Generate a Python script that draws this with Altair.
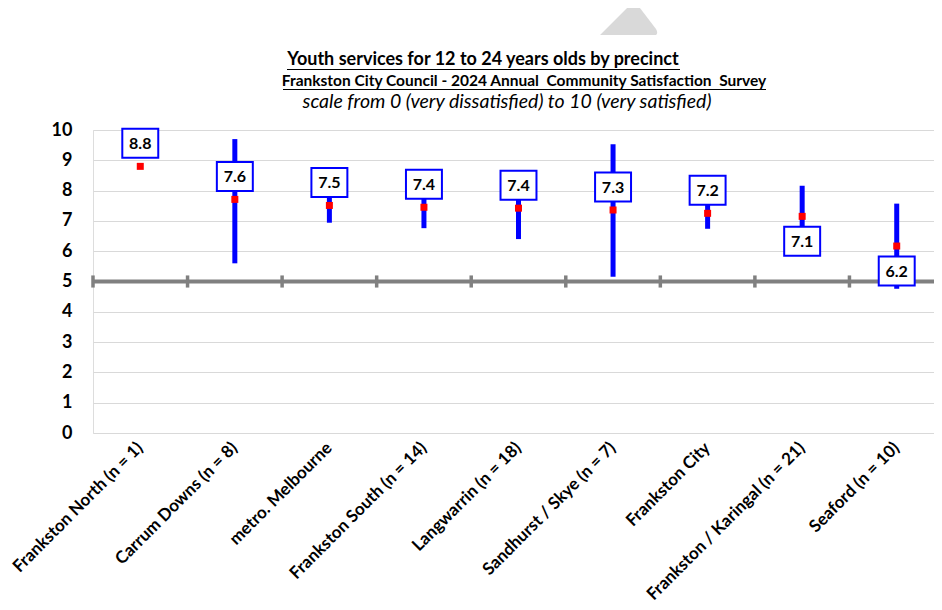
import altair as alt
import pandas as pd

# ---------------- data ----------------
categories = [
    "Frankston North (n = 1)",
    "Carrum Downs (n = 8)",
    "metro. Melbourne",
    "Frankston South (n = 14)",
    "Langwarrin (n = 18)",
    "Sandhurst / Skye (n = 7)",
    "Frankston City",
    "Frankston / Karingal (n = 21)",
    "Seaford (n = 10)",
]
means = [8.80, 7.71, 7.51, 7.45, 7.42, 7.36, 7.25, 7.15, 6.17]
lower = [None, 5.60, 6.94, 6.76, 6.40, 5.16, 6.74, 6.14, 4.76]
upper = [None, 9.70, 8.08, 8.14, 8.44, 9.53, 7.76, 8.16, 7.57]
labels = ["8.8", "7.6", "7.5", "7.4", "7.4", "7.3", "7.2", "7.1", "6.2"]
placement = ["above", "above", "above", "above", "above", "above", "above", "below", "below"]
y_ticks = [0, 1, 2, 3, 4, 5, 6, 7, 8, 9, 10]
reference_value = 5
title_lines = [
    "Youth services for 12 to 24 years olds by precinct",
    "Frankston City Council - 2024 Annual\u00a0 Community Satisfaction\u00a0 Survey",
    "scale from 0 (very dissatisfied) to 10 (very satisfied)",
]

df = pd.DataFrame({
    "cat": categories, "mean": means, "lower": lower, "upper": upper,
    "label": labels, "place": placement,
})

# ---------------- layout / style ----------------
W, H = 841, 303
XRANGE = 851
BAND = XRANGE / len(categories)
FONT = "Lato"
BLUE = "#0000ff"
BOX_PATH = "M-1.24,-1L1.24,-1L1.24,1L-1.24,1Z"
ABOVE, BELOW = -23, 25

xenc = alt.X("cat:N", sort=categories,
             scale=alt.Scale(paddingInner=0, paddingOuter=0, range=[0, XRANGE]),
             axis=alt.Axis(title=None, labelAngle=-45, labelAlign="right",
                           labelBaseline="middle", labelFont=FONT, labelFontSize=17,
                           labelFontWeight="bold", labelColor="black", domain=False,
                           ticks=False, labelPadding=12, grid=False, labelLimit=400,
                           labelOverlap=False))
yscale = alt.Scale(domain=[0, 10], nice=False, zero=True)
yaxis = alt.Axis(values=y_ticks, title=None, labelFont=FONT, labelFontSize=18,
                 labelFontWeight="bold", labelColor="black", domain=False, ticks=False,
                 labelPadding=21, gridColor="#d9d9d9", gridWidth=1)

base = alt.Chart(df)

ref_line = alt.Chart(pd.DataFrame({"v": [reference_value]})).mark_rule(
    color="#808080", strokeWidth=4
).encode(y=alt.Y("v:Q", scale=yscale, axis=yaxis))

ref_ticks = base.mark_rule(color="#808080", strokeWidth=3.5, xOffset=-BAND / 2).encode(
    x=xenc,
    y=alt.Y(datum=reference_value - 0.2, type="quantitative", scale=yscale, axis=yaxis),
    y2=alt.Y2(datum=reference_value + 0.2),
)

bars = base.mark_rule(color=BLUE, strokeWidth=5).encode(
    x=xenc, y=alt.Y("lower:Q", scale=yscale, axis=yaxis), y2="upper:Q"
)

def boxes(place, off):
    sub = base.transform_filter(alt.datum.place == place)
    box = sub.mark_point(shape=BOX_PATH, size=841, filled=True, fill="white",
                         fillOpacity=1, opacity=1, stroke=BLUE, strokeWidth=2,
                         yOffset=off).encode(x=xenc, y=alt.Y("mean:Q", scale=yscale, axis=yaxis))
    txt = sub.mark_text(font=FONT, fontSize=16, fontWeight="bold", color="black",
                        baseline="middle", yOffset=off + 1).encode(
        x=xenc, y=alt.Y("mean:Q", scale=yscale, axis=yaxis), text="label:N")
    return box + txt

squares = base.mark_square(size=49, color="#ff0000", opacity=1).encode(
    x=xenc, y=alt.Y("mean:Q", scale=yscale, axis=yaxis)
)

# ---------------- titles (positioned in pixels relative to plot origin) ----------------
one = pd.DataFrame({"t": [0]})
def tline(text, cx, cy, weight, style, size):
    return alt.Chart(one).mark_text(text=text, font=FONT, fontSize=size, fontWeight=weight,
                                    fontStyle=style, color="black", align="center",
                                    baseline="middle").encode(x=alt.value(cx - 93), y=alt.value(cy - 130))

def uline(x1, x2, yy):
    return alt.Chart(one).mark_rule(color="black", strokeWidth=1).encode(
        x=alt.value(x1 - 93), x2=alt.value(x2 - 93), y=alt.value(yy - 130))

t1 = tline(title_lines[0], 483, 60, "bold", "normal", 18)
t2 = tline(title_lines[1], 524, 81, "bold", "normal", 15.5)
t3 = tline(title_lines[2], 507, 102, "normal", "italic", 19.5)
u1 = uline(287, 680, 69.5)
u2 = uline(283, 766, 89.5)

deco = alt.Chart(one).mark_point(
    shape="M-1.93,1L-0.13,-0.8Q0.27,-1.15,0.73,-0.8L1.8,0.6Q1.95,0.85,1.8,1Z",
    size=900, filled=True, color="#d9d9d9", opacity=1
).encode(x=alt.value(536), y=alt.value(-110))

chart = alt.layer(
    ref_line, ref_ticks, bars, boxes("above", ABOVE), boxes("below", BELOW), squares,
    t1, t2, t3, u1, u2, deco
).properties(
    width=W, height=H,
    padding={"left": 85, "top": 122, "right": 0, "bottom": 170},
    autosize=alt.AutoSizeParams(type="none"),
).configure_view(stroke=None).configure(background="white")

chart.save("out.html", embed_options={"renderer": "svg", "actions": False})
